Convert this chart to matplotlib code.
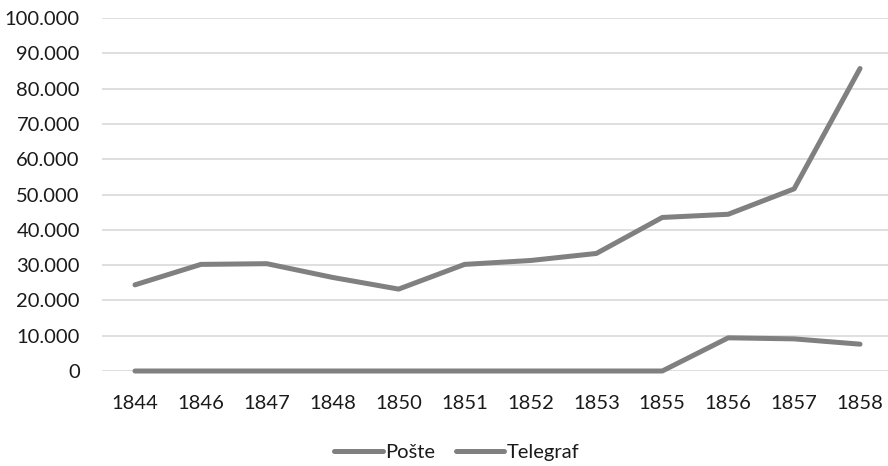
import matplotlib.pyplot as plt
from matplotlib.ticker import FuncFormatter

years = ['1844', '1846', '1847', '1848', '1850', '1851', '1852', '1853',
         '1855', '1856', '1857', '1858']
poste = [24400, 30200, 30400, 26500, 23200, 30200, 31300, 33300,
         43500, 44400, 51600, 85700]
telegraf = [0, 0, 0, 0, 0, 0, 0, 0, 0, 9400, 9100, 7600]
series_names = ['Pošte', 'Telegraf']

plt.rcParams['font.family'] = ['Lato', 'DejaVu Sans']

fig = plt.figure(figsize=(8.88, 4.66), dpi=100)
ax = fig.add_axes([102 / 888, 1 - 371 / 466, 791 / 888, 353 / 466])

x = range(len(years))
line_kw = dict(color='#808080', linewidth=3.6, solid_capstyle='round',
               solid_joinstyle='round', clip_on=False)
ax.plot(x, poste, label=series_names[0], **line_kw)
ax.plot(x, telegraf, label=series_names[1], **line_kw)

ax.set_xlim(-0.5, len(years) - 0.5)
ax.set_ylim(0, 100000)
ax.set_yticks(range(0, 100001, 10000))
ax.yaxis.set_major_formatter(FuncFormatter(lambda v, p: '{:,.0f}'.format(v).replace(',', '.')))
ax.set_xticks(list(x))
ax.set_xticklabels(years)

ax.grid(axis='y', color='#d9d9d9', linewidth=1.2)
ax.set_axisbelow(True)
for s in ['top', 'right', 'left', 'bottom']:
    ax.spines[s].set_visible(False)
ax.tick_params(axis='both', length=0, labelsize=14.5, colors='#1a1a1a')
ax.tick_params(axis='y', pad=16)
ax.tick_params(axis='x', pad=17)

fig.legend(loc='center', bbox_to_anchor=(457 / 888, 1 - 452 / 466), ncol=2, frameon=False,
           fontsize=14.5, handlelength=2.4, handletextpad=0.15, columnspacing=1.0,
           labelcolor='#1a1a1a')

plt.savefig('out.png', dpi=100)
